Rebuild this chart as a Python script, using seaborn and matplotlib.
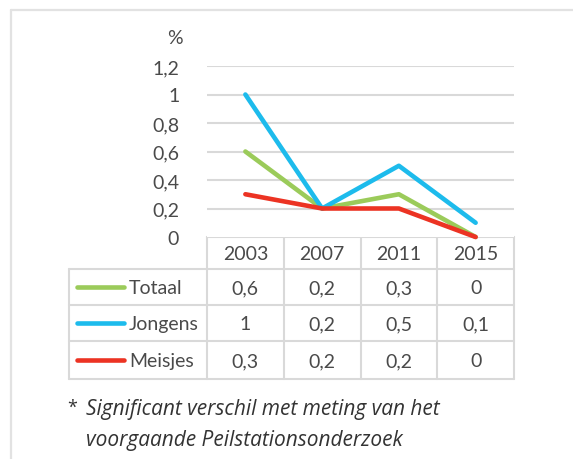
import matplotlib
matplotlib.use("Agg")
import matplotlib.pyplot as plt
import pandas as pd
import seaborn as sns

# data
years = ["2003", "2007", "2011", "2015"]
groups = ["Totaal", "Jongens", "Meisjes"]
totaal = [0.6, 0.2, 0.3, 0.0]
jongens = [1.0, 0.2, 0.5, 0.1]
meisjes = [0.3, 0.2, 0.2, 0.0]
y_ticks = [0, 0.2, 0.4, 0.6, 0.8, 1.0, 1.2]
colors = {"Totaal": "#9BCB5A", "Jongens": "#1DBBEC", "Meisjes": "#EC3323"}

W, H = 573, 460
TXT = "#4a4a4a"
GRID = "#d9d9d9"


def fmt(v):
    return f"{v:g}".replace(".", ",")


sns.set_theme(style="white")
plt.rcParams["font.family"] = ["Lato", "DejaVu Sans"]

long = pd.DataFrame({
    "year": years * 3,
    "group": [g for g in groups for _ in years],
    "value": totaal + jongens + meisjes,
})

fig = plt.figure(figsize=(W / 100, H / 100), dpi=100)
# overlay in pixel coordinates for the frame, table and notes
over = fig.add_axes([0, 0, 1, 1])
over.set_xlim(0, W)
over.set_ylim(H, 0)
over.axis("off")

left, right, top, bottom = 207, 514, 67, 238
ax = fig.add_axes([left / W, 1 - bottom / H, (right - left) / W, (bottom - top) / H])
sns.lineplot(data=long, x="year", y="value", hue="group", palette=colors,
             sort=False, linewidth=3.3, legend=False, ax=ax)
for ln in ax.lines:
    ln.set_solid_capstyle("round")
    ln.set_solid_joinstyle("round")
    ln.set_clip_on(False)
ax.set_xlim(-0.5, len(years) - 0.5)
ax.set_ylim(0, 1.2)
ax.set_yticks(y_ticks)
ax.set_yticklabels([fmt(v) for v in y_ticks], fontsize=14, color=TXT)
ax.tick_params(axis="y", length=0, pad=20)
ax.set_xticks([])
ax.set_xlabel("")
ax.set_ylabel("")
for s in ax.spines.values():
    s.set_visible(False)
for v in y_ticks[1:]:
    ax.axhline(v, color=GRID, lw=1.5, zorder=0)

over.text(175, 38, "%", fontsize=14, color=TXT, ha="center", va="center")

# frame around the figure
over.plot([11, 11], [11, H], color="#e2e2e2", lw=1.6, clip_on=False)
over.plot([11, W], [11, 11], color="#e2e2e2", lw=1.6, clip_on=False)

# data table
col_w = (right - left) / len(years)
col_edges = [left + i * col_w for i in range(len(years) + 1)]
label_x0 = 69
row_edges = [238, 270, 306, 342, 380]
lw = 1.5
over.plot([left, right], [row_edges[0], row_edges[0]], color=GRID, lw=lw)
for yy in row_edges[1:]:
    over.plot([label_x0, right], [yy, yy], color=GRID, lw=lw)
for xx in col_edges:
    over.plot([xx, xx], [row_edges[0], row_edges[-1]], color=GRID, lw=lw)
over.plot([label_x0, label_x0], [row_edges[1], row_edges[-1]], color=GRID, lw=lw)

for i, yr in enumerate(years):
    cx = (col_edges[i] + col_edges[i + 1]) / 2
    over.text(cx, (row_edges[0] + row_edges[1]) / 2 + 1, yr, fontsize=14,
              color=TXT, ha="center", va="center")

series = {"Totaal": totaal, "Jongens": jongens, "Meisjes": meisjes}
for r, g in enumerate(groups):
    cy = (row_edges[r + 1] + row_edges[r + 2]) / 2 + 1
    over.plot([77, 124], [cy - 1, cy - 1], color=colors[g], lw=3.3,
              solid_capstyle="round")
    over.text(129, cy, g, fontsize=14, color=TXT, ha="left", va="center")
    for i, v in enumerate(series[g]):
        cx = (col_edges[i] + col_edges[i + 1]) / 2
        over.text(cx, cy, fmt(v), fontsize=14, color=TXT, ha="center", va="center")

# footnote
note_font = ["Open Sans", "DejaVu Sans"]
over.text(67, 408, "*", fontsize=13, color="#333333", ha="left", va="center",
          family=note_font)
over.text(86, 410, "Significant verschil met meting van het", fontsize=15,
          color="#333333", style="italic", ha="left", va="center", family=note_font)
over.text(86, 441, "voorgaande Peilstationsonderzoek", fontsize=15,
          color="#333333", style="italic", ha="left", va="center", family=note_font)

fig.savefig("out.png", dpi=100, facecolor="white")
